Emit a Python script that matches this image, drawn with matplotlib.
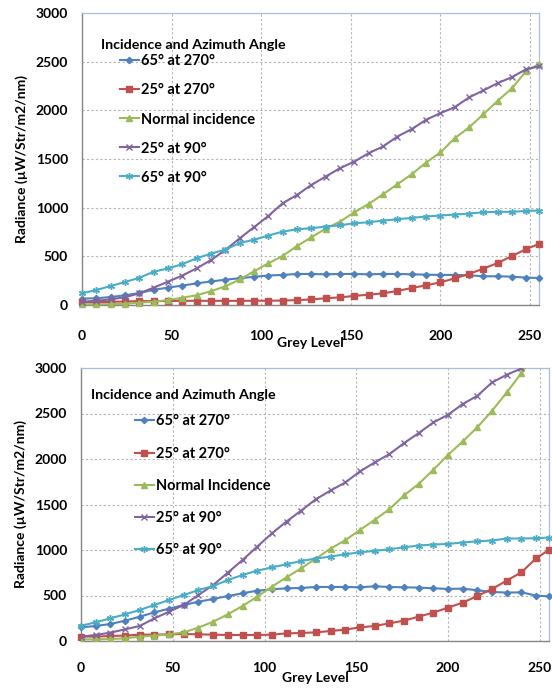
import matplotlib
matplotlib.use("Agg")
import matplotlib.pyplot as plt

plt.rcParams['font.family'] = ['Lato', 'DejaVu Sans']
plt.rcParams['font.weight'] = 'bold'

# grey levels sampled in both measurements
grey = [0, 8, 16, 24, 32, 40, 48, 56, 64, 72, 80, 88, 96, 104, 112, 120, 128,
        136, 144, 152, 160, 168, 176, 184, 192, 200, 208, 216, 224, 232, 240, 248, 255]

labels_top = ["65° at 270°", "25° at 270°", "Normal incidence", "25° at 90°", "65° at 90°"]
labels_bot = ["65° at 270°", "25° at 270°", "Normal Incidence", "25° at 90°", "65° at 90°"]

# upper chart
top_65_270 = [66, 69, 82, 100, 122, 157, 178, 200, 222, 242, 260, 275, 290, 303, 309, 319, 319,
              315, 319, 319, 315, 319, 319, 315, 312, 309, 309, 305, 295, 295, 291, 281, 278]
top_25_270 = [27, 28, 33, 36, 40, 40, 41, 43, 43, 43, 43, 43, 44, 44, 46, 50, 57,
              70, 78, 94, 106, 120, 144, 175, 202, 233, 274, 319, 374, 432, 504, 576, 627]
top_normal = [7, 7, 9, 12, 24, 34, 51, 75, 100, 142, 192, 262, 346, 429, 504, 607, 696,
              785, 857, 953, 1039, 1138, 1241, 1344, 1464, 1567, 1714, 1824, 1961, 2098, 2229, 2407, 2475]
top_25_90 = [34, 43, 58, 80, 120, 178, 240, 303, 377, 462, 565, 685, 800, 915, 1046, 1131, 1234,
             1320, 1406, 1474, 1560, 1629, 1731, 1807, 1903, 1971, 2033, 2133, 2205, 2280, 2342, 2424, 2451]
top_65_90 = [120, 154, 195, 236, 280, 342, 376, 420, 480, 528, 569, 637, 671, 714, 754, 778, 789,
             806, 819, 840, 850, 867, 881, 895, 909, 919, 929, 939, 953, 957, 957, 967, 970]

# lower chart
bot_65_270 = [150, 165, 187, 223, 267, 315, 355, 396, 432, 462, 494, 524, 553, 568, 579, 583, 594,
              594, 594, 590, 601, 594, 590, 587, 579, 572, 576, 557, 539, 532, 535, 499, 491]
bot_25_270 = [48, 48, 55, 59, 70, 70, 73, 77, 73, 70, 66, 66, 66, 70, 84, 88, 95,
              110, 125, 150, 165, 194, 224, 268, 312, 367, 422, 495, 572, 664, 755, 909, 1001]
bot_normal = [18, 18, 22, 29, 48, 59, 73, 95, 147, 212, 293, 385, 487, 597, 700, 799, 906,
              1016, 1107, 1221, 1331, 1448, 1599, 1727, 1881, 2046, 2193, 2350, 2530, 2732, 2945, 3170, 3380]
bot_25_90 = [48, 66, 92, 128, 165, 249, 322, 396, 505, 615, 751, 890, 1037, 1183, 1313, 1434, 1558,
             1654, 1742, 1863, 1962, 2053, 2174, 2285, 2402, 2486, 2604, 2695, 2842, 2926, 2995, 3110, 3220]
bot_65_90 = [168, 205, 249, 293, 341, 396, 451, 505, 560, 604, 670, 725, 773, 809, 843, 880, 906,
             928, 953, 975, 990, 1008, 1030, 1049, 1060, 1067, 1082, 1096, 1104, 1126, 1126, 1129, 1137]

colors = ["#4F81BD", "#C0504D", "#9BBB59", "#8064A2", "#4BACC6"]
markers = ["D", "s", "^", "x", (6, 2, 0)]
msizes = [3.2, 4.5, 4.5, 4.5, 5]

fig = plt.figure(figsize=(5.52, 6.88), dpi=100)
ax1 = fig.add_axes([82 / 552, 1 - 305 / 688, 457 / 552, 292 / 688])
ax2 = fig.add_axes([81 / 552, 1 - 641 / 688, 468 / 552, 273 / 688])


def style(ax, tickpad):
    ax.set_xlim(0, 255)
    ax.set_ylim(0, 3000)
    ax.set_xticks([0, 50, 100, 150, 200, 250])
    ax.set_yticks([0, 500, 1000, 1500, 2000, 2500, 3000])
    ax.grid(True, color="#b4b4b4", linestyle=(0, (2, 2)), linewidth=0.8)
    ax.set_axisbelow(True)
    for s in ["left", "bottom"]:
        ax.spines[s].set_color("#868686")
        ax.spines[s].set_linewidth(1.0)
    for s in ["top", "right"]:
        ax.spines[s].set_color("#a8c0de")
        ax.spines[s].set_linewidth(0.9)
    ax.tick_params(axis="both", length=0, labelsize=10)
    ax.tick_params(axis="x", pad=tickpad)
    ax.tick_params(axis="y", pad=10)
    for t in ax.get_xticklabels() + ax.get_yticklabels():
        t.set_fontweight("bold")


def draw(ax, series, labels, clipped, title, title_xy, leg_xy, spacing):
    handles = []
    for i, vals in enumerate(series):
        h, = ax.plot(grey, vals, color=colors[i], marker=markers[i], markersize=msizes[i],
                     markeredgewidth=1.0, linewidth=1.5, label=labels[i],
                     clip_on=(i in clipped), zorder=3)
        handles.append(h)
    ax.text(title_xy[0], title_xy[1], title, transform=ax.transAxes, fontsize=10.3,
            fontweight="bold", ha="left", va="center")
    ax.legend(handles=handles, loc="upper left", bbox_to_anchor=leg_xy, frameon=False,
              fontsize=10.5, handlelength=1.3, handletextpad=0.15, labelspacing=spacing,
              borderpad=0, borderaxespad=0)


style(ax1, 18)
style(ax2, 15)

draw(ax1, [top_65_270, top_25_270, top_normal, top_25_90, top_65_90], labels_top, [],
     "Incidence and Azimuth Angle", (0.041, 0.890), (0.083, 0.858), 1.03)
draw(ax2, [bot_65_270, bot_25_270, bot_normal, bot_25_90, bot_65_90], labels_bot, [2, 3],
     "Incidence and Azimuth Angle", (0.021, 0.901), (0.115, 0.830), 1.25)

for ax, xl, yl in [(ax1, -0.108, -0.118), (ax2, -0.112, -0.115)]:
    ax.set_xlabel("Grey Level", fontsize=10, fontweight="bold")
    ax.xaxis.set_label_coords(0.5, xl)
    ax.set_ylabel("Radiance (µW/Str/m2/nm)", fontsize=10, fontweight="bold")
    ax.yaxis.set_label_coords(yl, 0.5)

fig.savefig("out.png", dpi=100)
